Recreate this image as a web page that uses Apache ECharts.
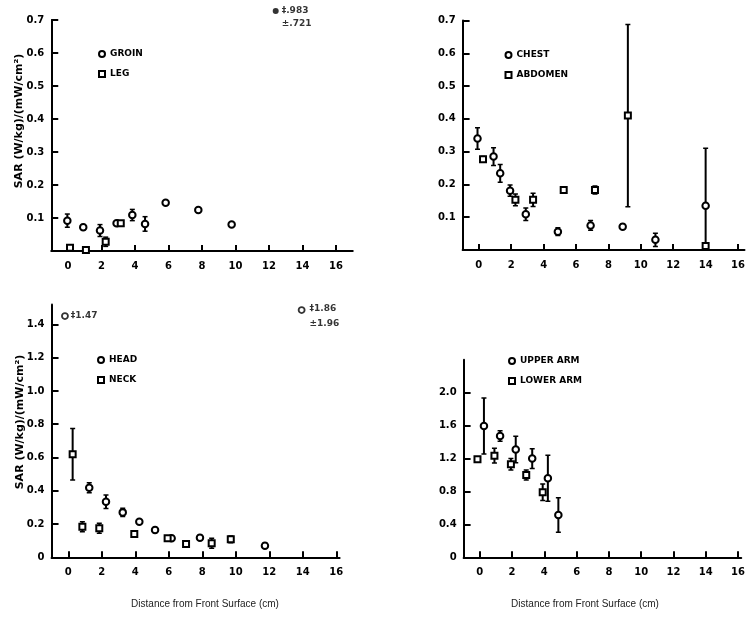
<!DOCTYPE html>
<html>
<head>
<meta charset="utf-8">
<script src="https://cdn.jsdelivr.net/npm/echarts@6/dist/echarts.min.js"></script>
<style>html,body{margin:0;padding:0;background:#fff}#c{width:748px;height:617px}</style>
</head>
<body>
<div id="c"></div>
<script>
// ---------- tick labels ----------
const xTicks = [0, 2, 4, 6, 8, 10, 12, 14, 16];
const yTicksA = [0.1, 0.2, 0.3, 0.4, 0.5, 0.6, 0.7];
const yTicksB = [0.1, 0.2, 0.3, 0.4, 0.5, 0.6, 0.7];
const yTicksC = [0, 0.2, 0.4, 0.6, 0.8, 1.0, 1.2, 1.4];
const yTicksD = [0, 0.4, 0.8, 1.2, 1.6, 2.0];

// ---------- panel A: groin / leg ----------
const groinX   = [-0.04, 0.91, 1.91, 2.9, 3.84, 4.6, 5.83, 7.78, 9.77];
const groinY   = [0.092, 0.072, 0.062, 0.084, 0.109, 0.082, 0.146, 0.124, 0.08];
const groinErr = [0.02, 0.008, 0.018, 0, 0.017, 0.022, 0.006, 0, 0];
const legX     = [0.12, 1.07, 2.25, 3.15];
const legY     = [0.01, 0.003, 0.028, 0.084];
const legErr   = [0, 0, 0.014, 0];
// off-scale groin point (drawn just above the frame)
const groinOffX = [12.4];
const groinOffShownY = [0.727];
const groinOffVal = [0.983];
const groinOffErr = [0.721];

// ---------- panel B: chest / abdomen ----------
const chestX   = [-0.08, 0.91, 1.32, 1.93, 2.9, 4.88, 6.9, 8.88, 10.9, 14.0];
const chestY   = [0.34, 0.285, 0.234, 0.181, 0.109, 0.056, 0.075, 0.071, 0.031, 0.135];
const chestErr = [0.033, 0.027, 0.027, 0.017, 0.019, 0.012, 0.015, 0.008, 0.02, 0.175];
const abdX     = [0.26, 2.26, 3.35, 5.24, 7.17, 9.2, 14.0];
const abdY     = [0.277, 0.153, 0.153, 0.183, 0.183, 0.41, 0.012];
const abdErr   = [0.008, 0.018, 0.02, 0.01, 0.012, 0.278, 0.008];

// ---------- panel C: head / neck ----------
const headX   = [1.25, 2.25, 3.25, 4.24, 5.18, 6.17, 7.86, 11.74];
const headY   = [0.418, 0.334, 0.27, 0.214, 0.164, 0.114, 0.118, 0.07];
const headErr = [0.03, 0.04, 0.025, 0.01, 0.015, 0.01, 0.015, 0.015];
const neckX   = [0.26, 0.84, 1.85, 3.94, 5.93, 7.03, 8.56, 9.7];
const neckY   = [0.619, 0.184, 0.174, 0.14, 0.114, 0.08, 0.084, 0.108];
const neckErr = [0.155, 0.03, 0.03, 0.015, 0.01, 0.01, 0.03, 0.02];
// off-scale head points
const headOffX = [-0.2, 13.93];
const headOffShownY = [1.45, 1.486];
const headOffVal = [1.47, 1.86];
const headOffErr = [null, 1.96];

// ---------- panel D: upper arm / lower arm ----------
const upperX   = [0.26, 1.26, 2.23, 3.25, 4.22, 4.87];
const upperY   = [1.595, 1.474, 1.31, 1.2, 0.96, 0.514];
const upperErr = [0.34, 0.065, 0.16, 0.12, 0.28, 0.21];
const lowerX   = [-0.14, 0.91, 1.93, 2.88, 3.9];
const lowerY   = [1.19, 1.235, 1.13, 1.0, 0.79];
const lowerErr = [0.03, 0.09, 0.07, 0.06, 0.1];

const yName = 'SAR (W/kg)/(mW/cm\u00B2)';
const xName = 'Distance from Front Surface (cm)';

// ---------- helpers ----------
const FONT = 'DejaVu Sans';
const pts = (xs, ys) => xs.map((x, i) => [x, ys[i]]);
const errs = (xs, ys, es) => xs.map((x, i) => [x, ys[i], es[i]]);

function errRender(params, api) {
  const x = api.value(0), y = api.value(1), e = api.value(2);
  if (!e) return null;
  const t = api.coord([x, y + e]);
  const b = api.coord([x, y - e]);
  const w = 2.5;
  return {
    type: 'group',
    children: [
      { type: 'line', shape: { x1: t[0], y1: t[1], x2: b[0], y2: b[1] }, style: { stroke: '#000', lineWidth: 2 } },
      { type: 'line', shape: { x1: t[0] - w, y1: t[1], x2: t[0] + w, y2: t[1] }, style: { stroke: '#000', lineWidth: 1.5 } },
      { type: 'line', shape: { x1: b[0] - w, y1: b[1], x2: b[0] + w, y2: b[1] }, style: { stroke: '#000', lineWidth: 1.5 } }
    ]
  };
}

function errSeries(idx, xs, ys, es) {
  return {
    type: 'custom', xAxisIndex: idx, yAxisIndex: idx, clip: true,
    renderItem: errRender, data: errs(xs, ys, es), encode: { x: 0, y: 1 }, z: 2, silent: true
  };
}
function markSeries(idx, name, symbol, xs, ys) {
  return {
    type: 'scatter', name: name, xAxisIndex: idx, yAxisIndex: idx,
    symbol: symbol, symbolSize: symbol === 'rect' ? 6 : 6.5,
    itemStyle: { color: '#fff', borderColor: '#000', borderWidth: 2, opacity: 1 },
    data: pts(xs, ys), z: 3
  };
}
const fmtVal = v => (v < 1 ? v.toFixed(3).replace(/^0/, '') : v.toFixed(2));

function xAxisCfg(idx, min, max) {
  return {
    type: 'value', gridIndex: idx, min: min, max: max,
    axisLine: { show: true, onZero: false, lineStyle: { color: '#000', width: 2 } },
    axisTick: { show: true, inside: true, length: 6, lineStyle: { color: '#000', width: 2 }, customValues: xTicks },
    axisLabel: { show: true, customValues: xTicks, margin: 10, color: '#000', fontFamily: FONT, fontWeight: 'bold', fontSize: 10 },
    splitLine: { show: false }
  };
}
function yAxisCfg(idx, max, ticks, fmt) {
  return {
    type: 'value', gridIndex: idx, min: 0, max: max,
    axisLine: { show: true, onZero: false, lineStyle: { color: '#000', width: 2 } },
    axisTick: { show: true, inside: true, length: 7, lineStyle: { color: '#000', width: 2 }, customValues: ticks },
    axisLabel: { show: true, customValues: ticks, margin: 7, color: '#000', fontFamily: FONT, fontWeight: 'bold', fontSize: 10, formatter: fmt },
    splitLine: { show: false }
  };
}
const fmt1 = v => v.toFixed(1);
const fmt0 = v => (v === 0 ? '0' : v.toFixed(1));

function legendCfg(names, symbols, left, top) {
  return {
    orient: 'vertical', left: left, top: top,
    itemWidth: 6, itemHeight: 6, itemGap: 8, itemTextGap: 4,
    textStyle: { fontFamily: FONT, fontWeight: 'bold', fontSize: 9, color: '#000', lineHeight: 12 },
    data: names.map((n, i) => ({ name: n, icon: symbols[i] })),
    selectedMode: false
  };
}

const option = {
  animation: false,
  backgroundColor: '#fff',
  grid: [
    { left: 51.25, top: 20, width: 301.5, height: 231 },
    { left: 462.6, top: 20.5, width: 285.9, height: 229.5 },
    { left: 51.55, top: 304.4, width: 288.1, height: 252.9 },
    { left: 463.6, top: 359.8, width: 282.4, height: 197.5 }
  ],
  xAxis: [
    xAxisCfg(0, -1, 17),
    xAxisCfg(1, -1, 16.4),
    xAxisCfg(2, -1, 16.2),
    xAxisCfg(3, -1, 16.2)
  ],
  yAxis: [
    yAxisCfg(0, 0.7, yTicksA, fmt1),
    yAxisCfg(1, 0.7, yTicksB, fmt1),
    yAxisCfg(2, 1.52, yTicksC, fmt0),
    yAxisCfg(3, 2.4, yTicksD, fmt0)
  ],
  legend: [
    legendCfg(['GROIN', 'LEG'], ['circle', 'rect'], 93, 43),
    legendCfg(['CHEST', 'ABDOMEN'], ['circle', 'rect'], 499.5, 44),
    legendCfg(['HEAD', 'NECK'], ['circle', 'rect'], 92, 349),
    legendCfg(['UPPER ARM', 'LOWER ARM'], ['circle', 'rect'], 503, 350)
  ],
  graphic: [
    { type: 'text', x: 19, y: 121, rotation: Math.PI / 2, style: { text: yName, font: 'bold 11px "DejaVu Sans"', fill: '#000', textAlign: 'center', textVerticalAlign: 'middle' } },
    { type: 'text', x: 20, y: 422, rotation: Math.PI / 2, style: { text: yName, font: 'bold 11px "DejaVu Sans"', fill: '#000', textAlign: 'center', textVerticalAlign: 'middle' } },
    { type: 'text', x: 205, y: 604, style: { text: xName, font: '10px "Liberation Sans"', fill: '#222', textAlign: 'center', textVerticalAlign: 'middle' } },
    { type: 'text', x: 585, y: 604, style: { text: xName, font: '10px "Liberation Sans"', fill: '#222', textAlign: 'center', textVerticalAlign: 'middle' } }
  ],
  series: [
    errSeries(0, groinX, groinY, groinErr),
    errSeries(0, legX, legY, legErr),
    markSeries(0, 'GROIN', 'circle', groinX, groinY),
    markSeries(0, 'LEG', 'rect', legX, legY),
    {
      type: 'scatter', xAxisIndex: 0, yAxisIndex: 0, clip: false, symbol: 'circle', symbolSize: 6,
      itemStyle: { color: '#000' }, z: 3,
      data: groinOffX.map((x, i) => ({ value: [x, groinOffShownY[i]], v: groinOffVal[i], e: groinOffErr[i] })),
      label: {
        show: true, position: [9, -4], align: 'left', verticalAlign: 'top',
        fontFamily: FONT, fontWeight: 'bold', fontSize: 9, lineHeight: 13, color: '#000',
        formatter: p => '\u2021' + fmtVal(p.data.v) + '\n\u00B1' + fmtVal(p.data.e)
      }
    },

    errSeries(1, chestX, chestY, chestErr),
    errSeries(1, abdX, abdY, abdErr),
    markSeries(1, 'CHEST', 'circle', chestX, chestY),
    markSeries(1, 'ABDOMEN', 'rect', abdX, abdY),

    errSeries(2, headX, headY, headErr),
    errSeries(2, neckX, neckY, neckErr),
    markSeries(2, 'HEAD', 'circle', headX, headY),
    markSeries(2, 'NECK', 'rect', neckX, neckY),
    {
      type: 'scatter', xAxisIndex: 2, yAxisIndex: 2, clip: false, symbol: 'circle', symbolSize: 6,
      itemStyle: { color: '#fff', borderColor: '#000', borderWidth: 1.8 }, z: 3,
      data: headOffX.map((x, i) => ({ value: [x, headOffShownY[i]], v: headOffVal[i], e: headOffErr[i] })),
      label: {
        show: true, position: 'right', distance: 2,
        fontFamily: FONT, fontWeight: 'bold', fontSize: 9, lineHeight: 15, color: '#000',
        formatter: p => '\u2021' + fmtVal(p.data.v) + (p.data.e != null ? '\n\u00B1' + fmtVal(p.data.e) : '')
      },
      labelLayout: p => (p.dataIndex === 1 ? { dx: 2, dy: 6 } : {})
    },

    errSeries(3, upperX, upperY, upperErr),
    errSeries(3, lowerX, lowerY, lowerErr),
    markSeries(3, 'UPPER ARM', 'circle', upperX, upperY),
    markSeries(3, 'LOWER ARM', 'rect', lowerX, lowerY)
  ]
};

const chart = echarts.init(document.getElementById('c'), null, { renderer: 'canvas' });
chart.setOption(option);
</script>
</body>
</html>
